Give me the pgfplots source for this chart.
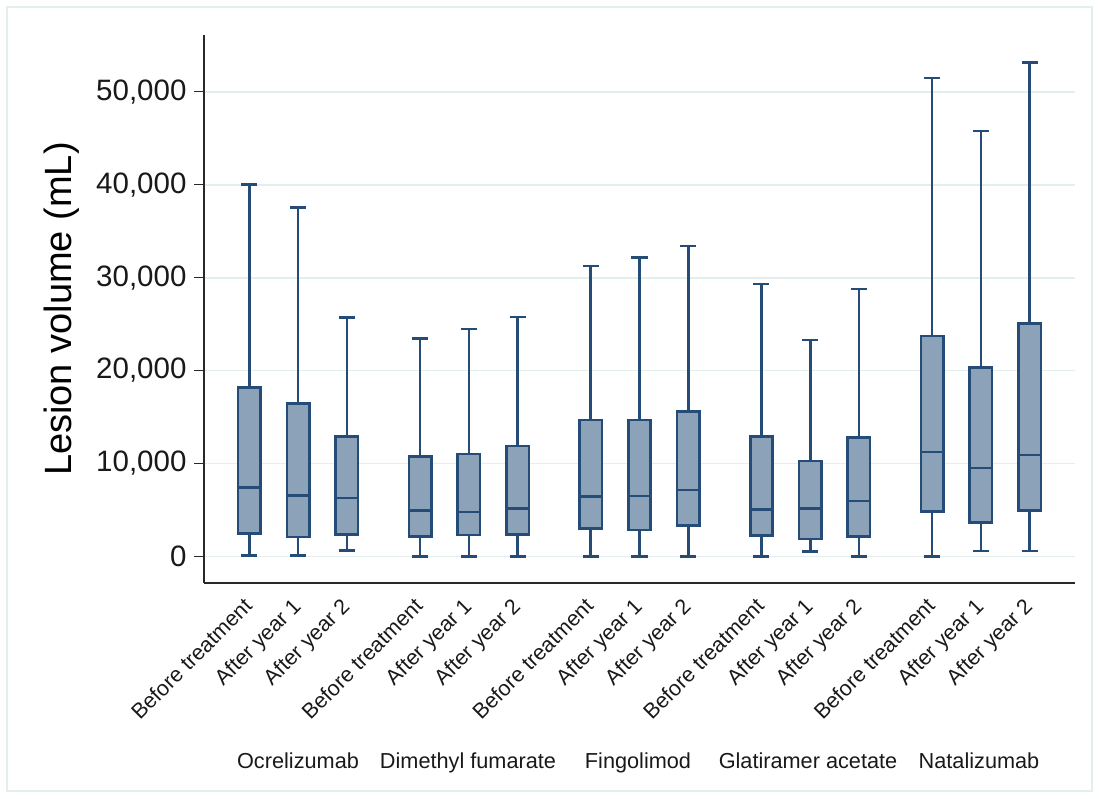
\documentclass[border=0pt]{standalone}
\usepackage{fontspec}
\setmainfont{Liberation Sans}
\usepackage{pgfplots}
\pgfplotsset{compat=1.18}
\usepgfplotslibrary{statistics}

\definecolor{boxfill}{RGB}{140,162,184}
\definecolor{boxedge}{RGB}{36,76,118}
\definecolor{gridc}{RGB}{228,238,241}
\definecolor{axisc}{RGB}{40,40,40}

% one prepared box: position, lower whisker, Q1, median, Q3, upper whisker
\newcommand{\bx}[6]{%
  \addplot[boxstyle, boxplot prepared={draw position=#1,
      lower whisker=#2, lower quartile=#3, median=#4,
      upper quartile=#5, upper whisker=#6}] coordinates {};}

\begin{document}
\begin{tikzpicture}
\path[use as bounding box] (0pt,0pt) rectangle (1099pt,798pt);
\draw[gridc, line width=1.5pt] (7pt,7pt) rectangle (1092pt,791pt);
\begin{axis}[
  at={(204pt,215pt)}, anchor=south west,
  scale only axis, width=871pt, height=548pt,
  xmin=-0.93, xmax=16.93,
  ymin=-2850, ymax=56100,
  axis x line*=bottom, axis y line*=left,
  axis line style={axisc, line width=1.4pt},
  boxplot/draw direction=y,
  boxstyle/.style={fill=boxfill, draw=boxedge, line width=2.6pt,
    boxplot/box extend=0.46, boxplot/whisker extend=0.33},
  ytick={0,10000,20000,30000,40000,50000},
  scaled y ticks=false,
  yticklabel style={/pgf/number format/1000 sep={,},
    /pgf/number format/assume math mode=true,
    font=\fontsize{29.5}{33}\selectfont, text=black!90, xshift=-4pt},
  ytick style={axisc, line width=1.4pt},
  tick align=outside, major tick length=10pt,
  ymajorgrids, grid style={gridc, line width=1.8pt},
  xtick={0,1,2,3.5,4.5,5.5,7,8,9,10.5,11.5,12.5,14,15,16},
  xticklabels={Before treatment, After year 1, After year 2,
               Before treatment, After year 1, After year 2,
               Before treatment, After year 1, After year 2,
               Before treatment, After year 1, After year 2,
               Before treatment, After year 1, After year 2},
  xtick style={draw=none},
  xticklabel style={rotate=45, anchor=north east, xshift=-4pt, yshift=6pt,
    font=\fontsize{21.5}{24}\selectfont, text=black!90},
  clip=false,
]
% Ocrelizumab
\bx{0}{100}{2490}{7440}{18190}{40000}
\bx{1}{90}{2100}{6540}{16470}{37550}
\bx{2}{670}{2340}{6290}{12880}{25720}
% Dimethyl fumarate
\bx{3.5}{0}{2130}{4920}{10730}{23420}
\bx{4.5}{0}{2310}{4780}{11020}{24460}
\bx{5.5}{0}{2390}{5140}{11880}{25780}
% Fingolimod
\bx{7}{0}{3030}{6430}{14680}{31240}
\bx{8}{0}{2850}{6500}{14680}{32170}
\bx{9}{0}{3310}{7150}{15570}{33420}
% Glatiramer acetate
\bx{10.5}{0}{2240}{5075}{12880}{29300}
\bx{11.5}{520}{1880}{5180}{10270}{23280}
\bx{12.5}{0}{2130}{5970}{12770}{28760}
% Natalizumab
\bx{14}{0}{4820}{11240}{23710}{51490}
\bx{15}{590}{3680}{9520}{20340}{45790}
\bx{16}{590}{4920}{10910}{25080}{53140}
\end{axis}
% y-axis title, centred on the axis box (x 204..1075pt, y 215..763pt)
\node[rotate=90, anchor=center, font=\fontsize{38}{42}\selectfont] at (62pt,489pt) {Lesion volume (mL)};
% group names under the rotated labels
\begin{scope}[every node/.style={anchor=base, font=\fontsize{21.7}{24}\selectfont, text=black!90}]
\node at (298pt,30pt) {Ocrelizumab};
\node at (468pt,30pt) {Dimethyl fumarate};
\node at (638pt,30pt) {Fingolimod};
\node at (808pt,30pt) {Glatiramer acetate};
\node at (979pt,30pt) {Natalizumab};
\end{scope}
\end{tikzpicture}
\end{document}
